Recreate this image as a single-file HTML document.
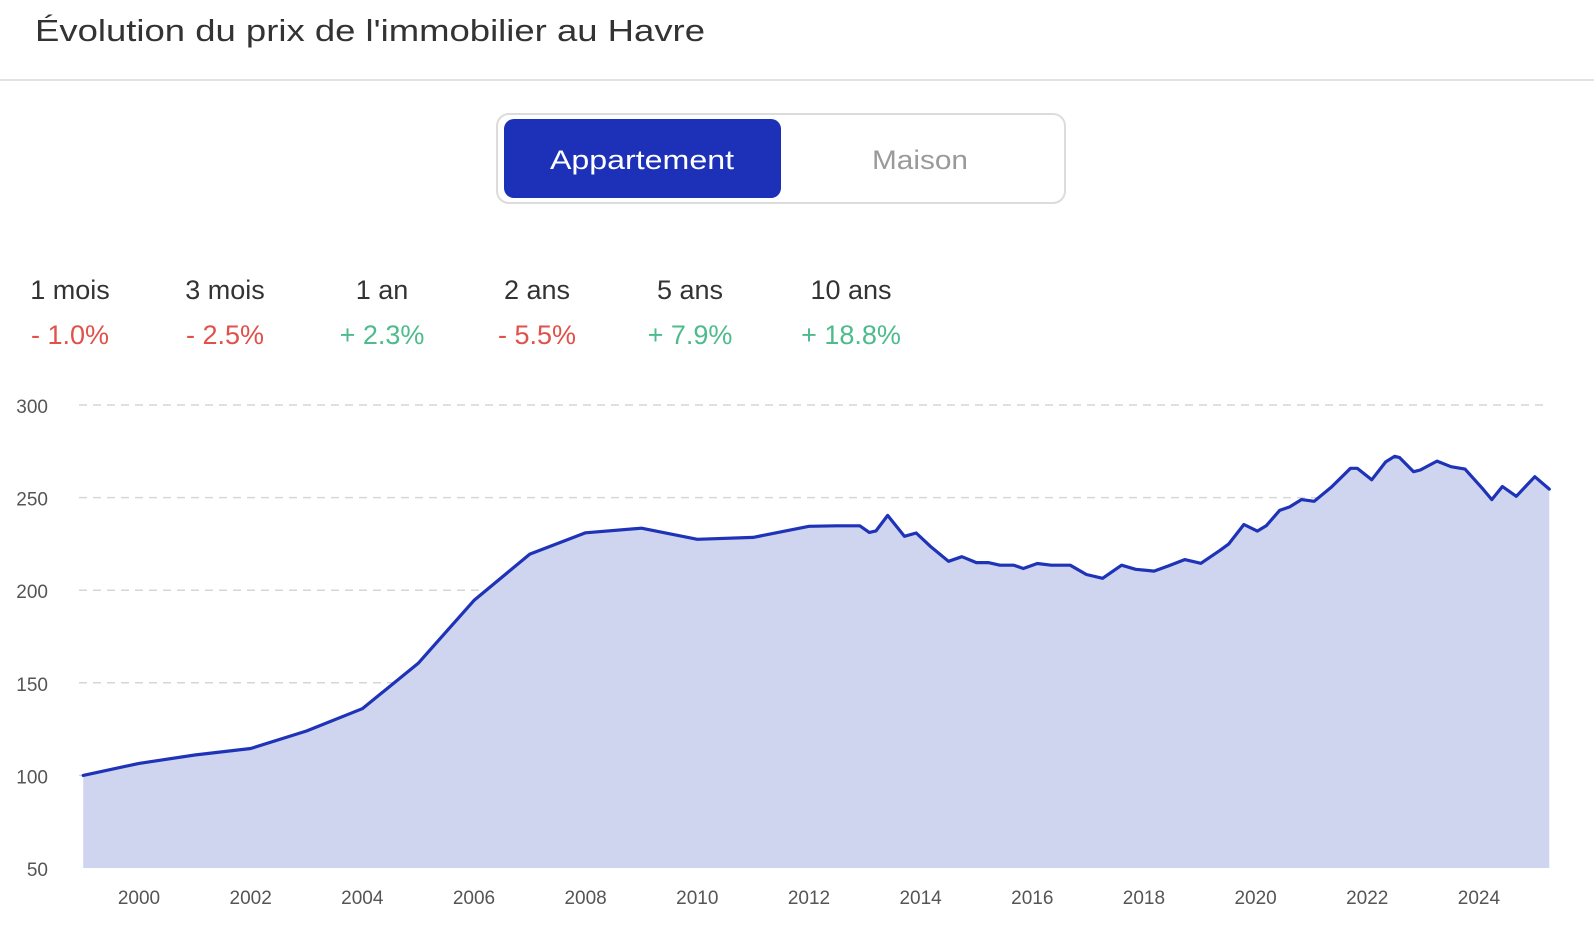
<!DOCTYPE html>
<html><head><meta charset="utf-8"><style>
html,body{margin:0;padding:0;background:#fff;width:1594px;height:940px;overflow:hidden;font-family:"Liberation Sans",sans-serif}
</style></head><body>
<svg id="chart" width="1594" height="940" viewBox="0 0 1594 940" xmlns="http://www.w3.org/2000/svg" font-family="Liberation Sans, sans-serif">
<text x="35" y="41" font-size="31" fill="#333" textLength="670" lengthAdjust="spacingAndGlyphs">Évolution du prix de l'immobilier au Havre</text>
<line x1="0" y1="80" x2="1594" y2="80" stroke="#e2e2e2" stroke-width="2"/>
<rect x="497" y="114" width="568" height="89" rx="12" fill="#fff" stroke="#dcdcdc" stroke-width="2"/>
<g>
<rect x="504" y="119" width="277" height="79" rx="10" fill="#1c31b7"/>
<text x="642" y="169" font-size="27" fill="#fff" text-anchor="middle" textLength="184" lengthAdjust="spacingAndGlyphs">Appartement</text>
</g>
<g>
<text x="920" y="169" font-size="27" fill="#9a9a9a" text-anchor="middle" textLength="96" lengthAdjust="spacingAndGlyphs">Maison</text>
</g>
<g id="stats"></g>
<g id="grid"></g>
<g id="plot"></g>
<g id="axes"></g>
</svg>
<script>
const NS="http://www.w3.org/2000/svg";
const statLabels=["1 mois","3 mois","1 an","2 ans","5 ans","10 ans"];
const statValues=["- 1.0%","- 2.5%","+ 2.3%","- 5.5%","+ 7.9%","+ 18.8%"];
const years=[1999,2000,2001,2002,2003,2004,2005,2006,2007,2008,2009,2010,2011,2012,2012.49,2012.91,2013.08,2013.2,2013.41,2013.71,2013.92,2014.17,2014.5,2014.74,2015.0,2015.21,2015.42,2015.67,2015.84,2016.09,2016.34,2016.68,2016.97,2017.26,2017.6,2017.85,2018.18,2018.44,2018.73,2019.02,2019.36,2019.52,2019.79,2020.03,2020.19,2020.43,2020.61,2020.82,2021.05,2021.36,2021.7,2021.82,2022.08,2022.33,2022.49,2022.58,2022.83,2022.95,2023.25,2023.5,2023.75,2024.08,2024.23,2024.42,2024.67,2025.0,2025.26];
const prices=[100,106.5,111,114.5,124,136,160.5,194.5,219.5,231,233.5,227.5,228.5,234.5,234.8,234.8,231.2,232,240.4,229.1,230.9,223.8,215.6,218.1,214.9,214.9,213.5,213.5,211.7,214.4,213.5,213.5,208.5,206.4,213.5,211.3,210.3,213.1,216.5,214.5,221.5,225,235.5,231.9,234.8,243.1,245,248.9,248,255.7,265.8,265.8,259.6,269.3,272.3,271.6,264,264.9,269.7,266.7,265.4,254.3,248.9,256,250.7,261.3,254.6];
const yTicks=[50,100,150,200,250,300];
const xTicks=[2000,2002,2004,2006,2008,2010,2012,2014,2016,2018,2020,2022,2024];
const X0=79,X1=1548,Y0=868,Y1=405;
const minYear=years[0],maxYear=years[years.length-1];
function xs(v){return 139+(v-2000)*55.83;}
function ys(v){return Y0-(v-50)/250*(Y0-Y1);}
function mk(tag,attrs,parent){const e=document.createElementNS(NS,tag);for(const k in attrs)e.setAttribute(k,attrs[k]);parent.appendChild(e);return e;}
const svg=document.getElementById('chart');
const stats=document.getElementById('stats');
const statX=[70,225,382,537,690,851];
statLabels.forEach((l,i)=>{
 const g=mk('g',{},stats);
 
 
 const t=mk('text',{x:statX[i],y:299,'font-size':27,fill:'#333','text-anchor':'middle'},g);t.textContent=l;
 const pos=statValues[i].startsWith('+');
 const v=mk('text',{x:statX[i],y:344,'font-size':27,fill:pos?'#4dbb8c':'#e0514a','text-anchor':'middle'},g);v.textContent=statValues[i];
});
const grid=document.getElementById('grid');
const axes=document.getElementById('axes');
yTicks.forEach(t=>{
 if(t>50){const l=mk('line',{x1:X0,x2:X1,y1:ys(t),y2:ys(t),stroke:'#d6d6d6','stroke-width':1.5,'stroke-dasharray':'8 6'},grid);
 
 }
 const tx=mk('text',{x:48,y:ys(t)+8,'font-size':19,fill:'#555','text-anchor':'end'},axes);
 
 
 tx.textContent=t;
});
xTicks.forEach(t=>{
 const tx=mk('text',{x:xs(t),y:904,'font-size':19,fill:'#555','text-anchor':'middle'},axes);
 
 
 tx.textContent=t;
});
const plot=document.getElementById('plot');
const pts=years.map((y,i)=>xs(y).toFixed(1)+','+ys(prices[i]).toFixed(1));
const area=mk('polygon',{points:xs(minYear)+','+Y0+' '+pts.join(' ')+' '+xs(maxYear)+','+Y0,fill:'#d0d5ef'},plot);


const line=mk('polyline',{points:pts.join(' '),fill:'none',stroke:'#1f33b8','stroke-width':3.2,'stroke-linejoin':'round','stroke-linecap':'round'},plot);


</script>
</body></html>
